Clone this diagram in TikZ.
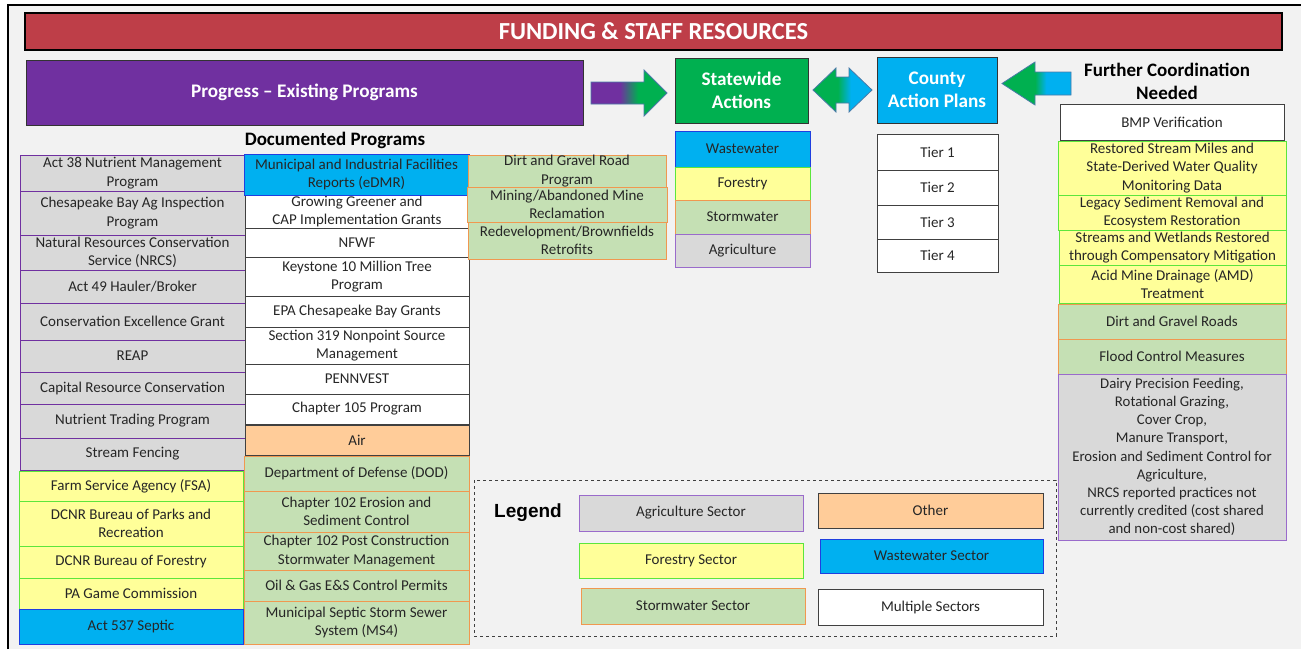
\documentclass[tikz,border=0pt]{standalone}
\usepackage{fontspec}
\setmainfont{Carlito}
\newfontfamily\arialf{Liberation Sans}
\definecolor{cpur}{HTML}{7030A0}
\definecolor{cgrn}{HTML}{00B050}
\definecolor{cblu}{HTML}{00B0F0}
\definecolor{cred}{HTML}{BE3E48}
\definecolor{cbg}{HTML}{F2F2F2}
\definecolor{ctext}{HTML}{262626}
\definecolor{agfill}{HTML}{D9D9D9}
\definecolor{agline}{HTML}{7030A0}
\definecolor{agline2}{HTML}{9A6BCB}
\definecolor{forfill}{HTML}{FFFF99}
\definecolor{forline}{HTML}{5CE63C}
\definecolor{swfill}{HTML}{C5E0B4}
\definecolor{swline}{HTML}{F09850}
\definecolor{wwline}{HTML}{1F3FE0}
\definecolor{othfill}{HTML}{FFCC99}
\definecolor{darkline}{HTML}{404040}
\definecolor{arrline}{HTML}{4A7AA8}
\pgfdeclarehorizontalshading{shA}{100bp}{color(0bp)=(cpur); color(44bp)=(cpur); color(56bp)=(cgrn); color(100bp)=(cgrn)}
\pgfdeclarehorizontalshading{shB}{100bp}{color(0bp)=(cgrn); color(46bp)=(cgrn); color(57bp)=(cblu); color(100bp)=(cblu)}
\pgfdeclarehorizontalshading{shC}{100bp}{color(0bp)=(cgrn); color(49bp)=(cgrn); color(57bp)=(cblu); color(100bp)=(cblu)}
\newcommand\bodyfont{\fontsize{15}{18.6}\selectfont}
\newcommand\mybox[7]{\node[#1, anchor=north west, minimum width={#5-#3}, minimum height={#6-#4}] (#2) at (#3,#4) {#7};}
\tikzset{
  bx/.style={draw, line width=1pt, inner sep=0pt, outer sep=0pt, align=center, text=ctext, font=\bodyfont},
  ag/.style={bx, fill=agfill, draw=agline},
  agl/.style={bx, fill=agfill, draw=agline2},
  fo/.style={bx, fill=forfill, draw=forline},
  sw/.style={bx, fill=swfill, draw=swline},
  ww/.style={bx, fill=cblu, draw=wwline},
  mu/.style={bx, fill=white, draw=darkline},
  ot/.style={bx, fill=othfill, draw=darkline},
  head/.style={bx, draw=black!80, line width=1pt, text=white, font=\fontsize{19.2}{23}\selectfont\bfseries},
  blocktip/.style={draw=arrline, line width=0.8pt}
}
\begin{document}
\begin{tikzpicture}[x=1pt,y=-1pt]
\useasboundingbox (0,0) rectangle (1301,649);
\fill[white] (0,0) rectangle (1301,649);
\fill[cbg] (8,5) rectangle (1301,649);
\draw[line width=2pt, black] (8,649) -- (8,5) -- (1301,5);

% title
\mybox{head, fill=cred, draw=black, line width=1.5pt, font=\fontsize{24.5}{28}\selectfont\bfseries}{title}{25}{13}{1282}{50}{FUNDING \& STAFF RESOURCES}
\mybox{head, fill=cpur}{progress}{26}{60}{583}{125}{Progress -- Existing Programs}
\mybox{head, fill=cgrn}{statewide}{675}{58}{808}{123}{Statewide\\Actions}
\mybox{head, fill=cblu}{county}{877}{57}{997}{123}{County\\Action Plans}
\node[font=\fontsize{19}{23}\selectfont\bfseries, align=center, text=black] (further) at (1167,81.5) {Further Coordination\\Needed};
\node[font=\fontsize{19}{22}\selectfont\bfseries, text=black] (docprog) at (335,140) {Documented Programs};

% block arrows
\shadedraw[shading=shA, blocktip] (591,82) -- (644,82) -- (644,70) -- (667,93) -- (644,116) -- (644,104) -- (591,104) -- cycle;
\shadedraw[shading=shB, blocktip] (813,90) -- (836,68) -- (836,77) -- (849,77) -- (849,68) -- (872,90) -- (849,112) -- (849,103) -- (836,103) -- (836,112) -- cycle;
\shadedraw[shading=shC, blocktip] (1002,83.5) -- (1035,62) -- (1035,72) -- (1071,72) -- (1071,95) -- (1035,95) -- (1035,105) -- cycle;

% left column
\mybox{ag}{l1}{20}{155}{245}{191}{Act 38 Nutrient Management\\Program}
\mybox{ag}{l2}{20}{191}{245}{235}{Chesapeake Bay Ag Inspection\\Program}
\mybox{ag}{l3}{20}{235}{245}{270}{Natural Resources Conservation\\Service (NRCS)}
\mybox{ag}{l4}{20}{270}{245}{303}{Act 49 Hauler/Broker}
\mybox{ag}{l5}{20}{303}{245}{340}{Conservation Excellence Grant}
\mybox{ag}{l6}{20}{340}{245}{372}{REAP}
\mybox{ag}{l7}{20}{372}{245}{404}{Capital Resource Conservation}
\mybox{ag}{l8}{20}{404}{245}{438}{Nutrient Trading Program}
\mybox{ag}{l9}{20}{438}{245}{470}{Stream Fencing}
\mybox{fo}{l10}{19}{471}{243}{501}{Farm Service Agency (FSA)}
\mybox{fo}{l11}{19}{501}{243}{546}{DCNR Bureau of Parks and\\Recreation}
\mybox{fo}{l12}{19}{546}{243}{578}{DCNR Bureau of Forestry}
\mybox{fo}{l13}{19}{578}{243}{609}{PA Game Commission}
\mybox{ww}{l14}{19}{609}{243}{644}{Act 537 Septic}

% middle column
\mybox{mu}{m2}{245}{195}{469}{228}{Growing Greener and\\CAP Implementation Grants}
\mybox{mu}{m3}{245}{228}{469}{257}{NFWF}
\mybox{mu}{m4}{245}{257}{469}{296}{Keystone 10 Million Tree\\Program}
\mybox{mu}{m5}{245}{296}{469}{327}{EPA Chesapeake Bay Grants}
\mybox{mu}{m6}{245}{327}{469}{364}{Section 319 Nonpoint Source\\Management}
\mybox{mu}{m7}{245}{364}{469}{394}{PENNVEST}
\mybox{mu}{m8}{245}{394}{469}{424}{Chapter 105 Program}
\mybox{ot}{m9}{245}{425}{469}{455}{Air}
\mybox{sw}{m10}{244}{456}{469}{491}{Department of Defense (DOD)}
\mybox{sw}{m11}{244}{491}{469}{532}{Chapter 102 Erosion and\\Sediment Control}
\mybox{sw}{m12}{244}{532}{469}{570}{Chapter 102 Post Construction\\Stormwater Management}
\mybox{sw}{m13}{244}{570}{469}{601}{Oil \& Gas E\&S Control Permits}
\mybox{sw}{m14}{244}{601}{469}{644}{Municipal Septic Storm Sewer\\System (MS4)}
\mybox{ww}{m1}{244}{154}{469}{195}{Municipal and Industrial Facilities\\Reports (eDMR)}

% third column
\mybox{sw}{t1}{468}{155}{666}{187}{Dirt and Gravel Road\\Program}
\mybox{sw}{t2}{467}{187}{667}{222}{Mining/Abandoned Mine\\Reclamation}
\mybox{sw}{t3}{468}{222}{666}{259}{Redevelopment/Brownfields\\Retrofits}

% statewide column
\mybox{ww}{s1}{675}{131}{810}{167}{Wastewater}
\mybox{fo}{s2}{675}{167}{810}{200}{Forestry}
\mybox{sw}{s3}{675}{200}{810}{234}{Stormwater}
\mybox{agl}{s4}{675}{234}{810}{267}{Agriculture}

% county tiers
\mybox{mu}{c1}{877}{134}{998}{170}{Tier 1}
\mybox{mu}{c2}{877}{170}{998}{205}{Tier 2}
\mybox{mu}{c3}{877}{205}{998}{239}{Tier 3}
\mybox{mu}{c4}{877}{239}{998}{272}{Tier 4}

% right column
\mybox{mu}{r0}{1060}{104}{1284}{140}{BMP Verification}
\mybox{fo}{r1}{1058}{141}{1286}{195}{Restored Stream Miles and\\State-Derived Water Quality\\Monitoring Data}
\mybox{fo}{r2}{1058}{195}{1286}{230}{Legacy Sediment Removal and\\Ecosystem Restoration}
\mybox{fo}{r3}{1059}{230}{1286}{265}{Streams and Wetlands Restored\\through Compensatory Mitigation}
\mybox{fo}{r4}{1059}{265}{1286}{303}{Acid Mine Drainage (AMD)\\Treatment}
\mybox{sw}{r5}{1058}{304}{1286}{339}{Dirt and Gravel Roads}
\mybox{sw}{r6}{1058}{339}{1286}{374}{Flood Control Measures}
\mybox{agl, font=\fontsize{14.8}{18.2}\selectfont}{r7}{1058}{374}{1286}{540}{Dairy Precision Feeding,\\Rotational Grazing,\\Cover Crop,\\Manure Transport,\\Erosion and Sediment Control for\\Agriculture,\\NRCS reported practices not\\currently credited (cost shared\\and non-cost shared)}

% legend
\draw[darkline, dashed, line width=0.8pt] (474,480) rectangle (1056,636);
\node[font=\arialf\fontsize{19}{22}\selectfont\bfseries, text=black] (legend) at (528,513) {Legend};
\mybox{agl}{lg1}{579}{495}{803}{531}{Agriculture Sector}
\mybox{fo}{lg2}{579}{543}{803}{578}{Forestry Sector}
\mybox{sw}{lg3}{581}{588}{805}{624}{Stormwater Sector}
\mybox{ot}{lg4}{818}{493}{1043}{528}{Other}
\mybox{ww}{lg5}{820}{539}{1043}{573}{Wastewater Sector}
\mybox{mu}{lg6}{818}{589}{1043}{625}{Multiple Sectors}
\end{tikzpicture}
\end{document}
